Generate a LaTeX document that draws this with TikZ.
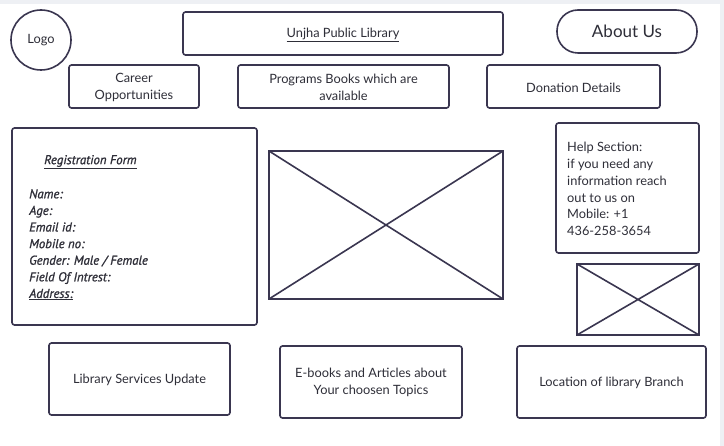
\documentclass[tikz,border=0pt]{standalone}
\usepackage{fontspec}
\setmainfont{Lato}
\newfontfamily\handfont[FakeBold=1.2]{PT Sans}
\begin{document}
\begin{tikzpicture}[x=1pt,y=-1pt,
  every node/.style={inner sep=0pt, text=txt},
  box/.style={draw=edge, line width=1.6pt, rounded corners=2.5pt, fill=white},
  lbl/.style={font=\fontsize{12.8}{16.5}\selectfont, align=center},
  hand/.style={font=\handfont\itshape\fontsize{12.8}{16.6}\selectfont, align=left, anchor=north west}]
\definecolor{edge}{HTML}{3A3650}
\definecolor{txt}{HTML}{2E2E38}
\definecolor{bg}{HTML}{EEF0F4}
\useasboundingbox (0,0) rectangle (724,446);
\fill[bg] (0,0) rectangle (724,446);
\fill[white] (0,4) rectangle (720,446);
% logo
\node[draw=edge, line width=1.6pt, circle, minimum size=60pt, lbl] (logo) at (41,40) {Logo};
% title
\draw[box] (183,12) rectangle (503,55);
\node[lbl] (title) at (343,34.5) {\underline{Unjha Public Library}};
% about us
\draw[draw=edge, line width=1.6pt, rounded corners=21pt] (557,10) rectangle (697,53);
\node[font=\fontsize{17}{19}\selectfont] (about) at (627,31) {About Us};
% second row
\draw[box] (69,65) rectangle (199,108);
\node[lbl] (career) at (134,87.5) {Career\\Opportunities};
\draw[box] (238,65) rectangle (449,108);
\node[lbl] (programs) at (343.5,87.5) {Programs Books which are\\available};
\draw[box] (487,65) rectangle (660,108);
\node[lbl] (donation) at (573.5,87.5) {Donation Details};
% registration
\draw[box] (12,128) rectangle (257,325);
\node[hand, anchor=west] (regtitle) at (44,162) {\underline{Registration Form}};
\node[hand] (regfields) at (29,189) {Name:\\Age:\\Email id:\\Mobile no:\\Gender: Male / Female\\Field Of Intrest:\\\underline{Address:}};
% big image placeholder
\draw[draw=edge, line width=1.6pt] (269,151) rectangle (503,299);
\coordinate (bi1) at (269,151); \coordinate (bi2) at (503,299);
\coordinate (bi3) at (503,151); \coordinate (bi4) at (269,299);
\draw[edge, line width=1.6pt] (bi1) -- (bi2) (bi3) -- (bi4);
% help
\draw[box] (556,123) rectangle (699,253);
\node[font=\fontsize{12.8}{16.8}\selectfont, align=left, anchor=north west] (help) at (567,142) {Help Section:\\if you need any\\information reach\\out to us on\\Mobile: +1\\436-258-3654};
% small image
\draw[draw=edge, line width=1.6pt] (577,264) rectangle (699,335);
\coordinate (si1) at (577,264); \coordinate (si2) at (699,335);
\coordinate (si3) at (699,264); \coordinate (si4) at (577,335);
\draw[edge, line width=1.6pt] (si1) -- (si2) (si3) -- (si4);
% bottom row
\draw[box] (49,343) rectangle (230,415);
\node[lbl] (services) at (139.5,379.5) {Library Services Update};
\draw[box] (280,346) rectangle (462,418);
\node[lbl] (ebooks) at (371,382.5) {E-books and Articles about\\Your choosen Topics};
\draw[box] (517,346) rectangle (706,418);
\node[lbl] (location) at (611.5,382.5) {Location of library Branch};
\end{tikzpicture}
\end{document}
